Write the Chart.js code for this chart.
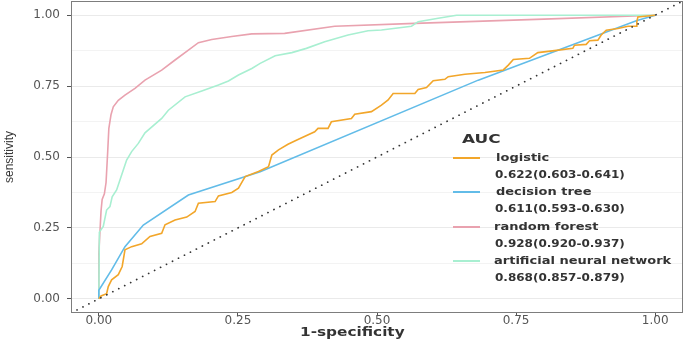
<!DOCTYPE html>
<html>
<head>
<meta charset="utf-8">
<script src="https://cdn.jsdelivr.net/npm/chart.js@4"></script>
<style>
  html, body { margin: 0; padding: 0; background: #fff; }
  #wrap { position: relative; width: 685px; height: 339px; overflow: hidden; }
  #roc { position: absolute; left: 0; top: 0; }
  .lg { position: absolute; font-family: "DejaVu Sans", sans-serif; font-weight: bold; font-size: 10px;
        color: #333; white-space: nowrap; line-height: 12px; transform-origin: left center; }
  .key { position: absolute; left: 453px; width: 27px; height: 2px; }
  .axt { position: absolute; color: #333; white-space: nowrap; }
</style>
</head>
<body>
<div id="wrap">
  <canvas id="roc" width="685" height="339"></canvas>
  <div class="axt" style="left:300px;top:325px;font-family:'DejaVu Sans',sans-serif;font-weight:bold;font-size:11.5px;line-height:14px;transform:scaleX(1.33);transform-origin:left center">1-specificity</div>
  <div class="axt" style="left:9px;top:157px;font-family:'Liberation Sans Narrow','Liberation Sans',sans-serif;font-stretch:condensed;font-size:12px;line-height:12px;transform:translate(-50%,-50%) rotate(-90deg)">sensitivity</div>
  <div id="legend"></div>
</div>
<script>
// ---- data ----
const xTicks = [0, 0.25, 0.5, 0.75, 1];
const yGrid  = [0, 0.125, 0.25, 0.375, 0.5, 0.625, 0.75, 0.875, 1];

const logisticX = [0, 0.004, 0.014, 0.017, 0.023, 0.035, 0.042, 0.047, 0.059, 0.077, 0.092, 0.113, 0.119, 0.137, 0.158, 0.173, 0.179, 0.209, 0.215, 0.239, 0.251, 0.263, 0.287, 0.305, 0.311, 0.323, 0.340, 0.356, 0.388, 0.394, 0.412, 0.418, 0.454, 0.460, 0.490, 0.508, 0.520, 0.529, 0.568, 0.574, 0.589, 0.601, 0.622, 0.628, 0.658, 0.694, 0.727, 0.736, 0.745, 0.774, 0.789, 0.819, 0.852, 0.855, 0.876, 0.882, 0.897, 0.903, 0.912, 0.933, 0.951, 0.966, 0.967, 0.969, 1];
const logisticY = [0, 0.010, 0.018, 0.043, 0.067, 0.085, 0.114, 0.173, 0.184, 0.194, 0.220, 0.231, 0.261, 0.278, 0.288, 0.308, 0.337, 0.343, 0.363, 0.375, 0.390, 0.431, 0.449, 0.466, 0.507, 0.525, 0.545, 0.560, 0.589, 0.601, 0.601, 0.624, 0.636, 0.651, 0.660, 0.683, 0.701, 0.724, 0.724, 0.738, 0.745, 0.769, 0.774, 0.783, 0.792, 0.798, 0.807, 0.824, 0.844, 0.848, 0.868, 0.875, 0.883, 0.894, 0.897, 0.910, 0.912, 0.930, 0.947, 0.953, 0.961, 0.961, 0.977, 0.994, 1];

const treeX = [0, 0, 0.023, 0.047, 0.080, 0.161, 0.290, 0.682, 0.966, 1];
const treeY = [0, 0.030, 0.102, 0.184, 0.260, 0.366, 0.448, 0.771, 0.980, 1];

const forestX = [0, 0, 0.004, 0.006, 0.010, 0.013, 0.016, 0.018, 0.022, 0.026, 0.035, 0.047, 0.065, 0.083, 0.113, 0.137, 0.161, 0.179, 0.203, 0.239, 0.275, 0.334, 0.424, 0.568, 0.800, 1];
const forestY = [0, 0.160, 0.310, 0.350, 0.370, 0.410, 0.520, 0.600, 0.650, 0.677, 0.700, 0.718, 0.742, 0.771, 0.806, 0.842, 0.877, 0.903, 0.914, 0.925, 0.934, 0.936, 0.961, 0.971, 0.986, 1];

const annX = [0, 0.001, 0.008, 0.014, 0.020, 0.024, 0.032, 0.038, 0.044, 0.050, 0.059, 0.071, 0.083, 0.113, 0.125, 0.155, 0.185, 0.215, 0.233, 0.251, 0.275, 0.290, 0.317, 0.347, 0.373, 0.406, 0.448, 0.484, 0.508, 0.562, 0.574, 0.610, 0.643, 1];
const annY = [0, 0.235, 0.255, 0.313, 0.325, 0.360, 0.384, 0.419, 0.454, 0.489, 0.519, 0.548, 0.585, 0.636, 0.665, 0.712, 0.733, 0.754, 0.768, 0.789, 0.812, 0.830, 0.857, 0.868, 0.883, 0.906, 0.930, 0.945, 0.948, 0.961, 0.977, 0.989, 1, 1];

const refX = [-0.05, 1.05];
const refY = [-0.05, 1.05];

const models = ['logistic', 'decision tree', 'random forest', 'artificial neural network'];
const aucText = ['0.622(0.603-0.641)', '0.611(0.593-0.630)', '0.928(0.920-0.937)', '0.868(0.857-0.879)'];
const COLORS = ['#F2A62A', '#62BCE8', '#E9A2AF', '#A8EFD1'];

const pts = (xs, ys) => xs.map((x, i) => ({ x, y: ys[i] }));
const isMajor = v => Math.abs(v * 4 - Math.round(v * 4)) < 1e-6;

// panel border on all four sides
const panelBorder = {
  id: 'panelBorder',
  afterDatasetsDraw(chart) {
    const { ctx, chartArea: a } = chart;
    ctx.save();
    ctx.strokeStyle = '#7d7d7d';
    ctx.lineWidth = 1;
    ctx.strokeRect(a.left + 0.5, a.top + 0.5, a.right - a.left - 1, a.bottom - a.top - 1);
    ctx.restore();
  }
};

const curve = (label, xs, ys, color, order) => ({
  label, data: pts(xs, ys), borderColor: color, borderWidth: 1.6,
  pointRadius: 0, tension: 0, fill: false, order
});

new Chart(document.getElementById('roc'), {
  type: 'line',
  data: {
    datasets: [
      { label: 'reference', data: pts(refX, refY), borderColor: '#333', borderWidth: 1.7,
        borderDash: [0.1, 6.6], borderCapStyle: 'round', pointRadius: 0, order: 0 },
      curve(models[0], logisticX, logisticY, COLORS[0], 1),
      curve(models[1], treeX, treeY, COLORS[1], 2),
      curve(models[3], annX, annY, COLORS[3], 3),
      curve(models[2], forestX, forestY, COLORS[2], 4)
    ]
  },
  options: {
    responsive: false,
    animation: false,
    layout: { padding: { left: 0, right: 2, top: 1, bottom: 0 } },
    plugins: { legend: { display: false }, tooltip: { enabled: false } },
    scales: {
      x: {
        type: 'linear', min: -0.05, max: 1.05,
        afterBuildTicks: s => { s.ticks = xTicks.map(v => ({ value: v })); },
        afterFit: s => { s.height = 26; s.paddingLeft = 0; s.paddingRight = 0; },
        grid: { drawOnChartArea: false, tickLength: 3, tickColor: '#555', tickWidth: 1 },
        border: { display: false },
        ticks: { padding: -2, color: '#555', maxRotation: 0, autoSkip: false,
                 font: { family: 'DejaVu Sans', size: 12 }, callback: v => v.toFixed(2) }
      },
      y: {
        type: 'linear', min: -0.05, max: 1.05,
        afterBuildTicks: s => { s.ticks = yGrid.map(v => ({ value: v })); },
        afterFit: s => { s.width = 71; s.paddingTop = 0; s.paddingBottom = 0; },
        grid: {
          color: c => isMajor(c.tick.value) ? '#EAEAEA' : '#F3F3F3',
          tickColor: c => isMajor(c.tick.value) ? '#555' : 'rgba(0,0,0,0)',
          tickLength: 4, lineWidth: 1
        },
        border: { display: false },
        ticks: { padding: 7, color: '#555', autoSkip: false,
                 font: { family: 'DejaVu Sans', size: 12 },
                 callback: v => isMajor(v) ? v.toFixed(2) : '' }
      }
    }
  },
  plugins: [panelBorder]
});

// legend drawn inside the panel, two text rows per model
const lg = document.getElementById('legend');
const rowY = [158, 191.5, 226.5, 261];
let html = '<div class="lg" style="left:462px;top:132px;font-size:12.5px;line-height:14px;transform:scaleX(1.35)">AUC</div>';
models.forEach((m, i) => {
  html += '<div class="key" style="top:' + (rowY[i] - 1) + 'px;background:' + COLORS[i] + '"></div>'
    + '<div class="lg" style="left:' + (i < 2 ? 496 : 494) + 'px;top:' + (rowY[i] - 6) + 'px;transform:scaleX(1.3)">' + m + '</div>'
    + '<div class="lg" style="left:495px;top:' + (rowY[i] + 11) + 'px;transform:scaleX(1.2)">' + aucText[i] + '</div>';
});
lg.innerHTML = html;
</script>
</body>
</html>
